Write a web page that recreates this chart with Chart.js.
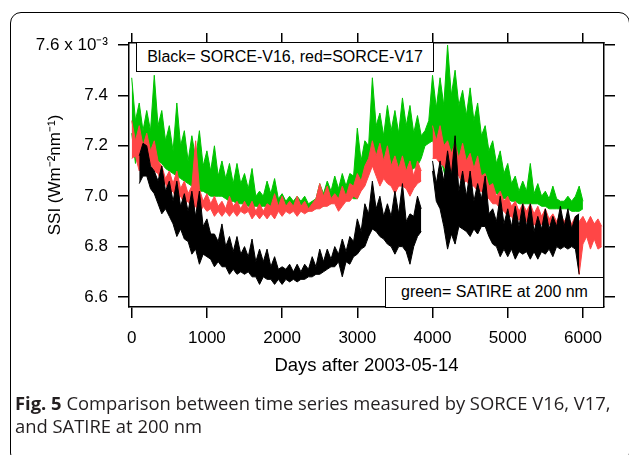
<!DOCTYPE html>
<html lang="en">
  <head>
    <meta charset="UTF-8" />
    <style>
      body { margin: 0; width: 629px; height: 455px; overflow: hidden; background: #fff; position: relative; font-family: "Liberation Sans", Arial, sans-serif; }
      #frame { position: absolute; left: 10px; top: 12px; width: 620px; height: 452px; border: 1.5px solid #000; border-radius: 11px; box-sizing: border-box; }
      #myChart { position: absolute; left: 0; top: 0; }
      .box { position: absolute; background: #fff; border: 1.5px solid #000; box-sizing: border-box; font-size: 16px; text-align: center; color: #000; }
      #caption { position: absolute; left: 15px; top: 391px; font-family: "Open Sans", sans-serif; font-size: 18.4px; line-height: 23px; color: #231f20; white-space: nowrap; }
    </style>
  </head>
  <body>
    <div id="frame"></div>
    <canvas id="myChart" width="629" height="455"></canvas>
    <div class="box" style="left:136px; top:42px; width:298px; height:30px; line-height:27px;">Black= SORCE-V16, red=SORCE-V17</div>
    <div class="box" style="left:385px; top:277px; width:219px; height:31px; line-height:28px;">green= SATIRE at 200 nm</div>
    <div id="caption"><b>Fig. 5</b> Comparison between time series measured by SORCE V16, V17,<br />and SATIRE at 200 nm</div>

    <script src="https://cdn.jsdelivr.net/npm/chart.js@4.4.0/dist/chart.umd.min.js"></script>
    <script>
      // days after 2003-05-14, every 50 days; each series is read off the plot
      // as the top and bottom of its noisy trace (units of 10^-3 W m-2 nm-1)
      var days = [];
      for (var d = 0; d <= 6250; d += 50) days.push(d);

      var xTicks = [0, 1000, 2000, 3000, 4000, 5000, 6000];
      var yTicks = [6.6, 6.8, 7.0, 7.2, 7.4, 7.6];

      // SORCE-V16 (black)
      var v16High = [
        null, null, 7.16, 7.21, 7.20, 7.12, 7.10, 7.06, 7.12, 7.02,
        7.06, 6.98, 7.06, 6.96, 7.01, 6.94, 7.02, 6.92, 7.02, 6.88,
        6.91, 6.85, 6.85, 6.82, 6.89, 6.80, 6.84, 6.78, 6.84, 6.77,
        6.80, 6.76, 6.83, 6.74, 6.79, 6.74, 6.79, 6.72, 6.76, 6.71,
        6.72, 6.71, 6.73, 6.70, 6.73, 6.70, 6.73, 6.71, 6.76, 6.72,
        6.79, 6.74, 6.79, 6.75, 6.80, 6.77, 6.83, 6.78, 6.84, 6.82,
        6.91, 6.86, 6.97, 6.93, 7.06, 6.95, 7.00, 6.92, 6.97, 6.92,
        7.02, 6.93, 7.05, 6.90, 6.93, 6.92, 7.00, 6.95, null, null,
        7.14, 7.05, 7.14, 7.06, 7.18, 7.08, 7.24, 7.02, 7.10, 7.00,
        7.10, 6.98, 7.05, 6.99, 7.08, 6.93, 6.95, 6.90, 7.00, 6.89,
        6.95, 6.88, 6.96, 6.88, 6.97, 6.88, 6.97, 6.86, 6.92, 6.87,
        6.95, 6.87, 6.92, 6.88, 6.96, 6.88, 6.95, 6.87, 6.92, 6.93,
        null, null, null, null, null, null
      ];
      var v16Low = [
        null, null, 7.05, 7.08, 7.08, 7.03, 7.01, 6.97, 6.93, 6.95,
        6.92, 6.89, 6.84, 6.87, 6.83, 6.82, 6.77, 6.79, 6.73, 6.77,
        6.76, 6.75, 6.72, 6.74, 6.72, 6.72, 6.69, 6.71, 6.69, 6.70,
        6.69, 6.70, 6.68, 6.68, 6.65, 6.68, 6.67, 6.67, 6.65, 6.67,
        6.65, 6.67, 6.66, 6.67, 6.66, 6.67, 6.67, 6.68, 6.68, 6.69,
        6.69, 6.70, 6.71, 6.72, 6.72, 6.74, 6.68, 6.74, 6.73, 6.76,
        6.77, 6.79, 6.80, 6.84, 6.87, 6.86, 6.84, 6.83, 6.81, 6.80,
        6.77, 6.80, 6.80, 6.78, 6.73, 6.80, 6.84, 6.86, null, null,
        7.10, 6.98, 6.95, 6.88, 6.79, 6.85, 6.81, 6.88, 6.87, 6.86,
        6.84, 6.87, 6.85, 6.88, 6.88, 6.84, 6.81, 6.80, 6.76, 6.79,
        6.76, 6.79, 6.75, 6.78, 6.77, 6.78, 6.75, 6.78, 6.75, 6.78,
        6.77, 6.79, 6.76, 6.80, 6.79, 6.80, 6.79, 6.80, 6.79, 6.69,
        null, null, null, null, null, null
      ];

      // SORCE-V17 (red)
      var v17High = [
        7.30, 7.22, 7.28, 7.20, 7.25, 7.18, 7.22, 7.14, 7.12, 7.07,
        7.10, 7.05, 7.10, 7.03, 7.06, 7.01, 7.04, 7.22, 7.03, 6.98,
        7.01, 6.97, 7.00, 6.96, 6.98, 6.95, 7.00, 6.96, 6.98, 6.95,
        6.98, 6.95, 6.98, 6.94, 6.97, 6.94, 6.97, 6.96, 7.01, 6.96,
        7.00, 6.96, 6.98, 6.96, 7.00, 6.96, 6.98, 6.95, 6.97, 6.99,
        7.05, 7.00, 7.04, 6.99, 7.01, 6.99, 7.04, 7.00, 7.05, 7.04,
        7.09, 7.06, 7.12, 7.15, 7.22, 7.16, 7.21, 7.14, 7.20, 7.12,
        7.16, 7.11, 7.16, 7.10, 7.14, 7.08, 7.14, 7.10, null, null,
        7.28, 7.22, 7.28, 7.20, 7.22, 7.17, 7.21, 7.15, 7.21, 7.14,
        7.17, 7.11, 7.16, 7.08, 7.09, 7.04, 7.05, 7.00, 7.02, 6.98,
        7.00, 6.96, 6.98, 6.94, 6.97, 6.94, 6.97, 6.93, 6.96, 6.92,
        6.95, 6.91, 6.93, 6.90, 6.93, 6.90, 6.92, 6.89, 6.92, 6.90,
        6.92, 6.89, 6.92, 6.89, 6.91, 6.88
      ];
      var v17Low = [
        7.15, 7.16, 7.10, 7.14, 7.12, 7.13, 7.10, 7.09, 7.05, 7.05,
        7.01, 7.02, 6.98, 7.00, 6.97, 6.98, 6.95, 6.96, 6.93, 6.96,
        6.94, 6.95, 6.92, 6.94, 6.92, 6.94, 6.92, 6.94, 6.92, 6.94,
        6.93, 6.94, 6.91, 6.93, 6.91, 6.93, 6.91, 6.93, 6.91, 6.94,
        6.92, 6.94, 6.93, 6.94, 6.92, 6.94, 6.93, 6.94, 6.94, 6.95,
        6.95, 6.96, 6.96, 6.97, 6.97, 6.94, 6.96, 6.98, 6.98, 7.00,
        6.99, 7.02, 7.04, 7.08, 7.12, 7.08, 7.04, 7.07, 7.05, 7.04,
        7.01, 7.04, 7.04, 7.03, 7.00, 7.03, 7.05, 7.06, null, null,
        7.15, 7.15, 7.13, 7.12, 7.09, 7.10, 7.10, 7.08, 7.05, 7.06,
        7.04, 7.04, 7.02, 7.02, 7.00, 6.99, 6.97, 6.97, 6.95, 6.94,
        6.92, 6.92, 6.89, 6.91, 6.89, 6.90, 6.87, 6.89, 6.87, 6.89,
        6.87, 6.89, 6.87, 6.88, 6.85, 6.87, 6.84, 6.86, 6.83, 6.69,
        6.81, 6.84, 6.79, 6.83, 6.79, 6.80
      ];

      // SATIRE at 200 nm (green)
      var satireHigh = [
        7.47, 7.30, 7.37, 7.26, 7.34, 7.26, 7.48, 7.28, 7.34, 7.22,
        7.28, 7.18, 7.37, 7.20, 7.26, 7.14, 7.24, 7.15, 7.26, 7.12,
        7.18, 7.10, 7.20, 7.08, 7.14, 7.07, 7.13, 7.05, 7.13, 7.05,
        7.09, 7.03, 7.11, 7.00, 7.02, 7.00, 7.06, 7.01, 7.07, 6.99,
        7.01, 6.98, 7.00, 6.98, 7.00, 6.98, 7.00, 6.97, 6.98, 6.99,
        7.05, 7.01, 7.06, 7.02, 7.08, 7.03, 7.09, 7.04, 7.09, 7.08,
        7.27, 7.14, 7.22, 7.20, 7.47, 7.28, 7.33, 7.24, 7.36, 7.26,
        7.34, 7.25, 7.39, 7.28, 7.36, 7.25, 7.32, 7.24, 7.26, 7.30,
        7.48, 7.35, 7.47, 7.36, 7.60, 7.40, 7.50, 7.36, 7.42, 7.32,
        7.43, 7.30, 7.37, 7.24, 7.28, 7.18, 7.22, 7.13, 7.18, 7.09,
        7.13, 7.05, 7.08, 7.02, 7.06, 7.02, 7.13, 7.01, 7.05, 7.00,
        7.02, 6.99, 7.04, 6.99, 6.98, 6.98, 7.00, 6.98, 7.00, 7.04,
        6.98, null, null, null, null, null
      ];
      var satireLow = [
        7.25, 7.13, 7.20, 7.18, 7.16, 7.15, 7.13, 7.14, 7.13, 7.11,
        7.10, 7.09, 7.08, 7.07, 7.06, 7.05, 7.04, 7.03, 7.02, 7.02,
        7.01, 7.00, 7.00, 7.00, 7.00, 6.99, 6.98, 6.98, 6.97, 6.97,
        6.97, 6.96, 6.96, 6.96, 6.96, 6.96, 6.96, 6.96, 6.96, 6.95,
        6.95, 6.95, 6.95, 6.95, 6.95, 6.94, 6.94, 6.94, 6.95, 6.95,
        6.96, 6.96, 6.97, 6.97, 6.98, 6.99, 7.01, 7.00, 7.00, 6.99,
        6.99, 7.04, 7.08, 7.12, 7.15, 7.12, 7.10, 7.12, 7.13, 7.11,
        7.09, 7.07, 7.06, 7.08, 7.10, 7.11, 7.12, 7.15, 7.20, 7.21,
        7.22, 7.19, 7.16, 7.10, 7.05, 7.10, 7.13, 7.11, 7.10, 7.09,
        7.09, 7.08, 7.08, 7.06, 7.05, 7.03, 7.02, 7.01, 7.00, 6.99,
        6.99, 6.98, 6.98, 6.97, 6.97, 6.97, 6.97, 6.97, 6.97, 6.96,
        6.96, 6.95, 6.95, 6.95, 6.95, 6.95, 6.95, 6.94, 6.94, 6.94,
        6.95, null, null, null, null, null
      ];

      function toPoints(values) {
        return days.map(function (d, i) {
          return { x: d, y: values[i] };
        });
      }

      // top edge of a trace, and bottom edge filled up to it
      function traceSets(label, high, low, color, order) {
        var line = { borderColor: color, borderWidth: 1, pointRadius: 0, tension: 0, spanGaps: false, order: order };
        return [
          Object.assign({ label: label + " high", data: toPoints(high), fill: false }, line),
          Object.assign({ label: label + " low", data: toPoints(low), fill: "-1", backgroundColor: color }, line),
        ];
      }

      var font = { family: "'Liberation Sans', Arial, sans-serif", size: 17 };
      var titleFont = { family: "'Liberation Sans', Arial, sans-serif", size: 18.5 };
      var axisGrid = { display: true, drawOnChartArea: false, drawTicks: true, tickLength: 11, color: "#000", lineWidth: 1.5 };
      var axisBorder = { display: true, color: "#000", width: 1.5 };

      var ctx = document.getElementById("myChart").getContext("2d");
      var chart = new Chart(ctx, {
        type: "line",
        data: {
          datasets: []
            .concat(traceSets("SORCE-V16", v16High, v16Low, "#000000", 0))
            .concat(traceSets("SORCE-V17", v17High, v17Low, "#ff4646", 1))
            .concat(traceSets("SATIRE", satireHigh, satireLow, "#00c400", 2)),
        },
        options: {
          responsive: false,
          animation: false,
          devicePixelRatio: 1,
          layout: { padding: { left: 10, right: 14, top: 32, bottom: 75 } },
          plugins: { legend: { display: false }, tooltip: { enabled: false } },
          scales: {
            x: {
              type: "linear",
              position: "bottom",
              min: -36,
              max: 6280,
              afterBuildTicks: function (s) { s.ticks = xTicks.map(function (v) { return { value: v }; }); },
              afterFit: function (s) { s.height = 73; },
              grid: axisGrid,
              border: axisBorder,
              ticks: { font: font, color: "#000", padding: 10, maxRotation: 0, callback: function (v) { return String(v); } },
              title: { display: true, text: "Days after 2003-05-14", font: titleFont, color: "#000", padding: { top: 0, bottom: 3 } },
            },
            x2: {
              type: "linear",
              axis: "x",
              position: "top",
              min: -36,
              max: 6280,
              afterBuildTicks: function (s) { s.ticks = xTicks.map(function (v) { return { value: v }; }); },
              afterFit: function (s) { s.height = 11; },
              grid: { display: true, drawOnChartArea: false, drawTicks: true, tickLength: 10, color: "#000", lineWidth: 1.5 },
              border: axisBorder,
              ticks: { display: false },
            },
            y: {
              type: "linear",
              position: "left",
              min: 6.5603,
              max: 7.608,
              afterBuildTicks: function (s) { s.ticks = yTicks.map(function (v) { return { value: v }; }); },
              afterFit: function (s) { s.width = 119; },
              grid: axisGrid,
              border: axisBorder,
              ticks: {
                font: font,
                color: "#000",
                padding: 10,
                callback: function (v) { return v === 7.6 ? "7.6 x 10\u207B\u00B3" : v.toFixed(1); },
              },
              title: { display: true, text: "SSI (Wm\u207B\u00B2nm\u207B\u00B9)", font: font, color: "#000", padding: { top: 35, bottom: 0 } },
            },
            y2: {
              type: "linear",
              axis: "y",
              position: "right",
              min: 6.5603,
              max: 7.608,
              afterBuildTicks: function (s) { s.ticks = yTicks.map(function (v) { return { value: v }; }); },
              afterFit: function (s) { s.width = 11; },
              grid: axisGrid,
              border: axisBorder,
              ticks: { display: false },
            },
          },
        },
      });
    </script>
  </body>
</html>
